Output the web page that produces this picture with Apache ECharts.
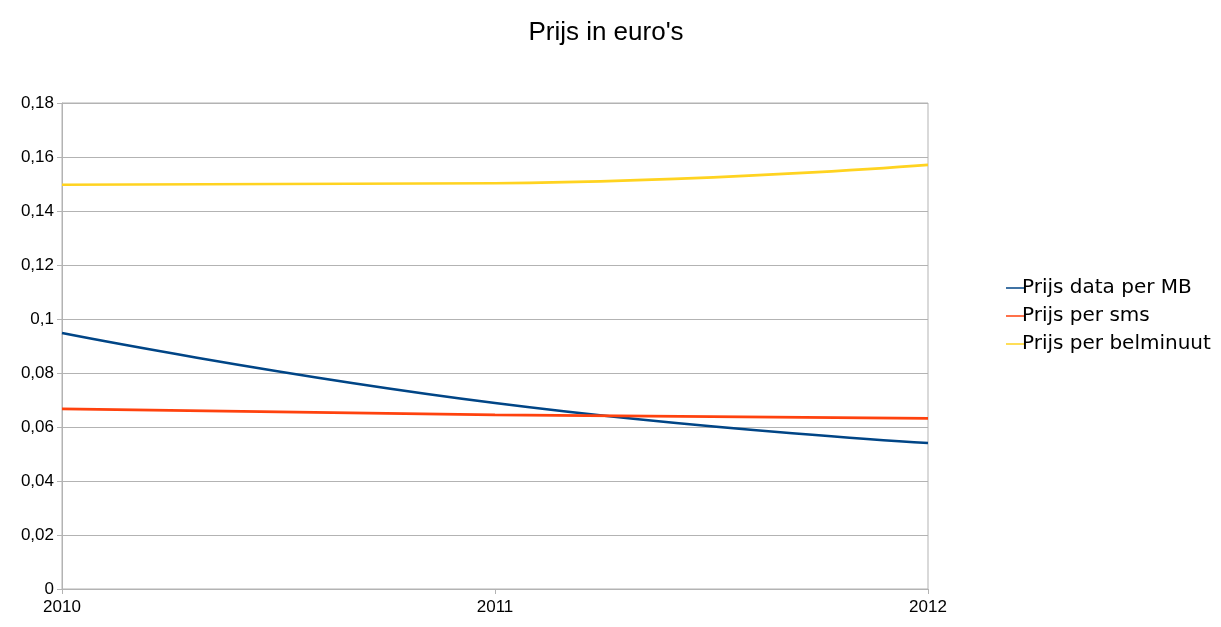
<!DOCTYPE html>
<html>
<head>
<meta charset="utf-8">
<script src="https://cdn.jsdelivr.net/npm/echarts@6/dist/echarts.min.js"></script>
<style>html,body{margin:0;padding:0;background:#fff}#c{width:1221px;height:627px}</style>
</head>
<body>
<div id="c"></div>
<script>
var titleText = "Prijs in euro's";
var categories = ['2010', '2011', '2012'];
var seriesNames = ['Prijs data per MB', 'Prijs per sms', 'Prijs per belminuut'];
var dataMB = [0.0948, 0.0689, 0.0541];
var dataSms = [0.0667, 0.0645, 0.0632];
var dataBel = [0.1497, 0.1503, 0.1571];
var colors = ['#004586', '#ff420e', '#ffd320'];

var chart = echarts.init(document.getElementById('c'));
function mk(name, data, color) {
  return {
    name: name, type: 'line', data: data, smooth: 0.5, symbol: 'none',
    lineStyle: { color: color, width: 2.6 }, itemStyle: { color: color }
  };
}
chart.setOption({
  animation: false,
  color: colors,
  title: {
    text: titleText, left: 601, top: 15, textAlign: 'center',
    textStyle: { fontFamily: 'Liberation Sans', fontWeight: 'normal', fontSize: 26, color: '#000' }
  },
  grid: { left: 62, right: 293, top: 103, bottom: 38, show: true, borderColor: '#b3b3b3', borderWidth: 1 },
  legend: {
    orient: 'vertical', left: 1001, top: 273, itemGap: 8, itemWidth: 18, itemHeight: 21,
    icon: 'path://M0,9.5L18,9.5L18,11L0,11Z',
    textStyle: { fontFamily: 'DejaVu Sans', fontSize: 20, color: '#000', padding: [0,0,0,-7] },
    data: seriesNames
  },
  xAxis: {
    type: 'category', data: categories, boundaryGap: false,
    axisLine: { lineStyle: { color: '#b3b3b3' } },
    axisTick: { show: true, length: 5, lineStyle: { color: '#b3b3b3' } },
    axisLabel: { fontFamily: 'Liberation Sans', fontSize: 17, color: '#000', margin: 10 },
    splitLine: { show: false }
  },
  yAxis: {
    type: 'value', min: 0, max: 0.18, interval: 0.02,
    axisLine: { show: true, lineStyle: { color: '#b3b3b3' } },
    axisTick: { show: true, length: 5, lineStyle: { color: '#b3b3b3' } },
    axisLabel: {
      fontFamily: 'Liberation Sans', fontSize: 17, color: '#000', margin: 8,
      formatter: function (v) { return String(+v.toFixed(2)).replace('.', ','); }
    },
    splitLine: { lineStyle: { color: '#b3b3b3' } }
  },
  series: [mk(seriesNames[0], dataMB, colors[0]), mk(seriesNames[1], dataSms, colors[1]), mk(seriesNames[2], dataBel, colors[2])]
});
</script>
</body>
</html>
